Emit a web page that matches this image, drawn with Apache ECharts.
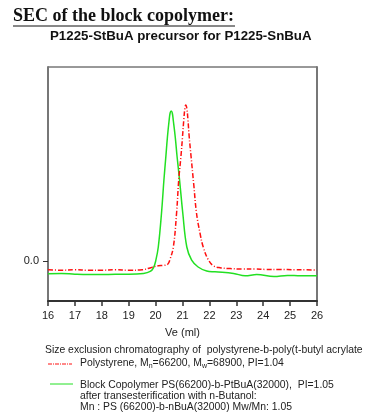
<!DOCTYPE html>
<html>
<head>
<meta charset="utf-8">
<script src="https://cdn.jsdelivr.net/npm/echarts@6/dist/echarts.min.js"></script>
<style>
  html, body { margin: 0; padding: 0; background: #fff; }
  #chart { width: 377px; height: 420px; }
</style>
</head>
<body>
<div id="chart"></div>
<script>
// elution volume ticks (ml)
const xTicks = [16, 17, 18, 19, 20, 21, 22, 23, 24, 25, 26];

// polystyrene precursor (red, dash-dot) : [Ve, signal]
const polystyrene = [
  [16.0, -0.22], [16.5, -0.23], [17.0, -0.22], [17.5, -0.23], [18.0, -0.23],
  [18.5, -0.22], [19.0, -0.23], [19.5, -0.22], [19.85, -0.16], [20.1, -0.12],
  [20.3, -0.11], [20.45, -0.08], [20.53, 0.03], [20.66, 0.35], [20.78, 1.2],
  [20.86, 2.03], [20.94, 2.6], [21.0, 3.1], [21.05, 3.55], [21.09, 3.82], [21.12, 3.9],
  [21.16, 3.82], [21.2, 3.55], [21.25, 3.1], [21.32, 2.6], [21.42, 1.9], [21.52, 1.2],
  [21.65, 0.7], [21.77, 0.35], [21.96, 0.03], [22.15, -0.12], [22.4, -0.17], [22.77, -0.19],
  [23.2, -0.2], [23.7, -0.2], [24.1, -0.21], [24.6, -0.21], [25.2, -0.22],
  [25.6, -0.22], [26.0, -0.23]
];

// block copolymer (green, solid)
const copolymer = [
  [16.0, -0.32], [16.5, -0.31], [17.0, -0.33], [17.5, -0.34], [18.0, -0.34],
  [18.5, -0.33], [19.0, -0.33], [19.55, -0.31], [19.8, -0.26], [19.92, -0.17],
  [20.01, 0.02], [20.1, 0.35], [20.22, 1.2], [20.31, 2.03], [20.38, 2.6],
  [20.44, 3.1], [20.5, 3.5], [20.54, 3.7], [20.58, 3.75], [20.62, 3.7], [20.66, 3.5],
  [20.73, 3.1], [20.8, 2.6], [20.89, 2.03], [21.01, 1.2], [21.16, 0.35], [21.34, 0.02],
  [21.58, -0.15], [21.9, -0.25], [22.21, -0.27], [22.9, -0.31], [23.33, -0.37],
  [23.76, -0.34], [24.4, -0.39], [24.9, -0.36], [25.4, -0.37], [26.0, -0.37]
];

const yLabels = [0];

const myChart = echarts.init(document.getElementById("chart"));
const option = {
  animation: false,
  grid: {
    left: 48,
    right: 60,
    top: 67,
    bottom: 119,
    show: true,
    borderColor: "#333",
    borderWidth: 1,
  },
  xAxis: {
    type: "value",
    min: xTicks[0],
    max: xTicks[xTicks.length - 1],
    interval: 1,
    name: "Ve (ml)",
    nameLocation: "middle",
    nameGap: 26,
    nameTextStyle: { color: "#222", fontSize: 11, fontFamily: "Liberation Sans" },
    axisLine: { onZero: false, lineStyle: { color: "#333", width: 2 } },
    axisTick: { length: 5, lineStyle: { color: "#333", width: 1.5 } },
    axisLabel: { color: "#222", fontSize: 11, fontFamily: "Liberation Sans", margin: 9 },
    splitLine: { show: false },
  },
  yAxis: [
    {
      type: "value",
      min: -1,
      max: 4.85,
      axisLine: { show: true, onZero: false, lineStyle: { color: "#777", width: 2 } },
      axisTick: { show: true, length: 5, customValues: yLabels, lineStyle: { color: "#333" } },
      axisLabel: {
        customValues: yLabels,
        color: "#222",
        fontSize: 11,
        fontFamily: "Liberation Sans",
        margin: 9,
        formatter: (v) => v.toFixed(1),
      },
      splitLine: { show: false },
    },
    {
      type: "value",
      min: -1,
      max: 4.85,
      position: "right",
      axisLine: { show: true, onZero: false, lineStyle: { color: "#777", width: 2 } },
      axisTick: { show: false },
      axisLabel: { show: false },
      splitLine: { show: false },
    },
  ],
  series: [
    {
      name: "Block Copolymer",
      type: "line",
      data: copolymer,
      showSymbol: false,
      smooth: 0.4,
      lineStyle: { color: "#22e022", width: 1.5 },
    },
    {
      name: "Polystyrene",
      type: "line",
      data: polystyrene,
      showSymbol: false,
      smooth: 0.4,
      lineStyle: { color: "#ff1010", width: 1.5, type: [5, 2, 1, 2] },
    },
  ],
  graphic: [
    {
      type: "text",
      left: 13,
      top: 7,
      style: {
        text: "SEC of the block copolymer:",
        font: "bold 18px 'Liberation Serif'",
        fill: "#111",
      },
    },
    {
      type: "line",
      shape: { x1: 13, y1: 26, x2: 235, y2: 26 },
      style: { stroke: "#111", lineWidth: 1 },
    },
    {
      type: "text",
      left: 50,
      top: 30,
      style: {
        text: "P1225-StBuA precursor for P1225-SnBuA",
        font: "bold 13.3px 'Liberation Sans'",
        fill: "#111",
      },
    },
    {
      type: "text",
      left: 45,
      top: 345,
      style: {
        text: "Size exclusion chromatography of  polystyrene-b-poly(t-butyl acrylate",
        font: "10.4px 'Liberation Sans'",
        fill: "#222",
      },
    },
    {
      type: "line",
      shape: { x1: 48, y1: 364, x2: 72, y2: 364 },
      style: { stroke: "#ff1010", lineWidth: 1, lineDash: [4, 1, 1, 1] },
    },
    {
      type: "text",
      left: 80,
      top: 358,
      style: {
        text: "Polystyrene, M{s|n}=66200, M{s|w}=68900, PI=1.04",
        font: "10.4px 'Liberation Sans'",
        fill: "#222",
        rich: { s: { fontSize: 7, padding: [6, 0, 0, 0], fill: "#222" } },
      },
    },
    {
      type: "line",
      shape: { x1: 50, y1: 384, x2: 73, y2: 384 },
      style: { stroke: "#22e022", lineWidth: 1 },
    },
    {
      type: "text",
      left: 80,
      top: 379,
      style: {
        text: "Block Copolymer PS(66200)-b-PtBuA(32000),  PI=1.05\nafter transesterification with n-Butanol:\nMn : PS (66200)-b-nBuA(32000) Mw/Mn: 1.05",
        font: "10.4px 'Liberation Sans'",
        lineHeight: 11.3,
        fill: "#222",
      },
    },
  ],
};
myChart.setOption(option);
</script>
</body>
</html>
